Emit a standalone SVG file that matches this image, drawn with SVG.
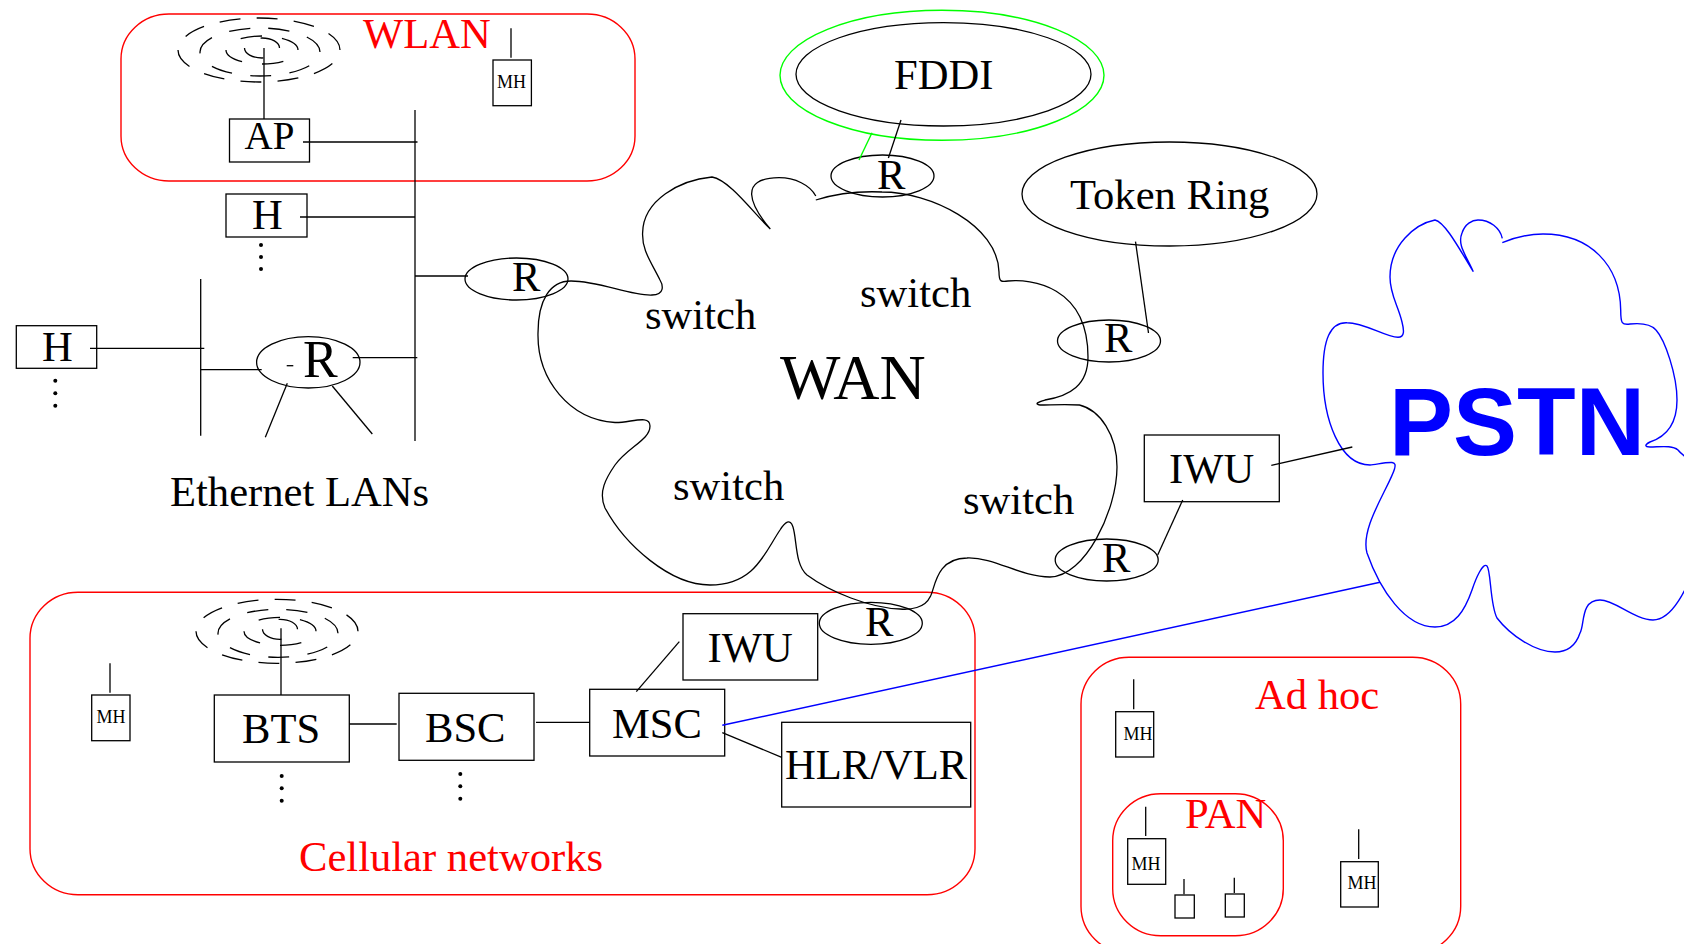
<svg xmlns="http://www.w3.org/2000/svg" xmlns:xlink="http://www.w3.org/1999/xlink" width="1684" height="944" viewBox="0 0 1684 944">
<style>
text{font-family:"Liberation Serif","Times New Roman",serif;fill:#000;font-size:42.6px}
.red{fill:#f00}
.mh{font-size:18px}
.bx,.ln,.el,.rp{fill:none;stroke:#000;stroke-width:1.3}
.rg{fill:none;stroke:#f00;stroke-width:1.4}
.bl{fill:none;stroke:#00f;stroke-width:1.4}
.gr{fill:none;stroke:#0f0;stroke-width:1.4}
.dot{fill:#000}
</style>
<defs>
<g id="ripple">
<ellipse class="rp" cx="259" cy="50" rx="81" ry="32" pathLength="390" stroke-dasharray="22 17" stroke-dashoffset="22"/>
<ellipse class="rp" cx="260" cy="52" rx="60" ry="24" pathLength="287" stroke-dasharray="22 19" stroke-dashoffset="22"/>
<ellipse class="rp" cx="262" cy="50" rx="36" ry="14" pathLength="170" stroke-dasharray="22 20.5" stroke-dashoffset="22"/>
<ellipse class="rp" cx="262" cy="48" rx="17.5" ry="10" pathLength="90" stroke-dasharray="24 21" stroke-dashoffset="24"/>
</g>
</defs>
<g id="wlan"><rect class="rg" x="121" y="14" width="514" height="167" rx="48" ry="45"/><text class="red" x="363" y="48">WLAN</text></g>
<g id="cellular"><rect class="rg" x="30" y="592.3" width="945" height="302.4" rx="48" ry="46"/><text class="red" x="299" y="871">Cellular networks</text></g>
<g id="adhoc"><rect class="rg" x="1081" y="657.3" width="379.7" height="296" rx="48" ry="47"/><text class="red" x="1255" y="709">Ad hoc</text></g>
<g id="pan"><rect class="rg" x="1112.7" y="793.7" width="170.6" height="142" rx="48" ry="47"/><text class="red" x="1185" y="828">PAN</text></g>
<g id="wan-cloud"><path class="ln" d="M815.8 200C835 194 860 191 882 192C930 192 998 225 999 272C999 282 1001 282 1008 281C1030 279 1088 285 1088 357C1088 385 1070 396 1045 400C1038 402 1034 404 1040 405C1050 405 1065 404 1079.5 405C1100 410 1117 435 1117 467C1117 510 1085 577 1050 577C1020 577 995 557 967 558C935 558 935 590 930 597C925 608 910 610 900 609C870 608 830 592 807 575C795 565 797 540 793 527C790 518 785 522 780 530C765 552 755 585 710 585C670 585 625 545 605 508C598 492 606 478 615 465C628 447 650 440 650 426C650 414 630 423 615 422.5C570 420 537 380 538 333C538 300 550 281 571 281C600 281 630 296 652 295C665 295 663 285 660 280C650 260 642 250 642.6 233C643 200 680 180 712 177C730 180 755 215 770.3 229C750 205 738 178 779 177.7C795 177.7 810 185 815.8 196"/>
<text x="645" y="329">switch</text><text x="860" y="307">switch</text><text x="673" y="500">switch</text><text x="963" y="514">switch</text><text x="780" y="399" style="font-size:64px">WAN</text></g>
<g id="pstn"><path class="bl" d="M1502.3 242.7C1516 237 1530 234 1543 234C1590 234 1620 265 1620.7 310C1620.7 324 1622 325 1630 324C1640 323 1650 323 1656 330C1665 340 1677 375 1677 400C1677 425 1665 437 1650 442C1644 445 1645 447 1650 447C1660 447 1672 445 1678 450C1682 455 1690 460 1695 465C1720 500 1690 620 1653 620C1635 620 1615 600 1600 600C1580 600 1585 625 1580 633C1575 648 1565 652 1555 652C1535 652 1510 635 1497 618C1490 605 1491 570 1487 566C1483 562 1476 578 1472 590C1465 610 1455 627 1435 627C1405 627 1380 590 1367 553C1362 535 1375 510 1385 490C1395 470 1398 463 1392 462.5C1385 462 1375 465 1370 465C1340 465 1323 420 1323 373C1323 340 1330 322 1347 322.7C1365 322.7 1385 337 1398 337.3C1405 337 1404 330 1402 322C1398 305 1390 295 1390 277C1390 245 1415 224 1435 220C1445 222 1460 250 1473.3 271.7C1466 255 1457 245 1462 233C1465 224 1472 220 1478 220C1490 220 1500 228 1502.3 238.3"/>
<text x="1389" y="455" style="font-family:'Liberation Sans',Arial,sans-serif;font-weight:700;font-size:96px;fill:#00f">PSTN</text></g>
<g id="fddi"><ellipse class="gr" cx="942" cy="75.3" rx="162" ry="65"/><ellipse class="el" cx="943.5" cy="74.3" rx="147.5" ry="51.7"/><text x="894" y="89">FDDI</text></g>
<g id="token-ring"><ellipse class="el" cx="1169.5" cy="194" rx="147.5" ry="52"/><text x="1070" y="209">Token Ring</text></g>
<g id="ap"><use xlink:href="#ripple" href="#ripple"/><line class="ln" x1="264" y1="48" x2="264" y2="119"/><rect class="bx" x="229.5" y="119" width="80" height="43"/><text x="244.5" y="149" style="font-size:39px">AP</text></g>
<g id="mh-wlan"><line class="ln" x1="511" y1="28.3" x2="511" y2="57.7"/><rect class="bx" x="493" y="60" width="38.4" height="45.7"/><text class="mh" x="497" y="88.3">MH</text></g>
<g id="h1"><rect class="bx" x="226" y="194" width="81" height="43"/><text x="252" y="229">H</text><circle class="dot" cx="261" cy="245" r="2"/><circle class="dot" cx="261" cy="257" r="2"/><circle class="dot" cx="261" cy="269" r="2"/></g>
<g id="h2"><rect class="bx" x="16.3" y="325.7" width="80.4" height="42.6"/><text x="42" y="361">H</text><circle class="dot" cx="55.3" cy="380.7" r="2"/><circle class="dot" cx="55.3" cy="393.3" r="2"/><circle class="dot" cx="55.3" cy="405.7" r="2"/></g>
<g id="r-lan"><ellipse class="el" cx="308.3" cy="362.3" rx="51.7" ry="25.7"/><text x="303" y="377" style="font-size:52px">R</text><line class="ln" x1="286.7" y1="365.7" x2="293.3" y2="365.7"/></g>
<text id="ethernet-label" x="170" y="506">Ethernet LANs</text>
<g id="r-west"><ellipse class="el" cx="516.5" cy="279" rx="51.5" ry="21"/><text x="512" y="291">R</text></g>
<g id="r-north"><ellipse class="el" cx="882.5" cy="176" rx="51.5" ry="21"/><text x="877" y="189">R</text></g>
<g id="r-east"><ellipse class="el" cx="1109" cy="341" rx="51.5" ry="21"/><text x="1104" y="352">R</text></g>
<g id="r-se"><ellipse class="el" cx="1106.7" cy="560" rx="51.5" ry="21"/><text x="1102" y="572">R</text></g>
<g id="r-south"><ellipse class="el" cx="870.8" cy="623.3" rx="51.5" ry="21"/><text x="865" y="636">R</text></g>
<g id="iwu-pstn"><rect class="bx" x="1144.3" y="435" width="135" height="66.7"/><text x="1169" y="483.3">IWU</text></g>
<g id="bts"><use xlink:href="#ripple" href="#ripple" transform="translate(18 581.3)"/><line class="ln" x1="281" y1="628.3" x2="281" y2="695"/><rect class="bx" x="214.3" y="695" width="135" height="67"/><text x="242" y="742.7">BTS</text><circle class="dot" cx="281.7" cy="776" r="2"/><circle class="dot" cx="281.7" cy="788.3" r="2"/><circle class="dot" cx="281.7" cy="800.7" r="2"/></g>
<g id="bsc"><rect class="bx" x="399" y="693.3" width="135" height="67"/><text x="425" y="742">BSC</text><circle class="dot" cx="460.3" cy="774" r="2"/><circle class="dot" cx="460.3" cy="786.3" r="2"/><circle class="dot" cx="460.3" cy="798.7" r="2"/></g>
<g id="msc"><rect class="bx" x="589.7" y="689.3" width="135" height="66.7"/><text x="612" y="737.7">MSC</text></g>
<g id="iwu-cell"><rect class="bx" x="683" y="613.7" width="134.7" height="66.3"/><text x="707.5" y="661.7">IWU</text></g>
<g id="hlr"><rect class="bx" x="781.7" y="722.3" width="189" height="84.7"/><text x="785" y="779">HLR/VLR</text></g>
<g id="mh-cell"><line class="ln" x1="110" y1="663.3" x2="110" y2="692.7"/><rect class="bx" x="91.7" y="695" width="38.3" height="45.7"/><text class="mh" x="96.5" y="723.3">MH</text></g>
<g id="mh-adhoc1"><line class="ln" x1="1133.7" y1="679.3" x2="1133.7" y2="709.3"/><rect class="bx" x="1115.7" y="711.7" width="38" height="45.3"/><text class="mh" x="1123.5" y="740">MH</text></g>
<g id="mh-pan"><line class="ln" x1="1145.7" y1="806.7" x2="1145.7" y2="836"/><rect class="bx" x="1127.7" y="838.7" width="38" height="45.6"/><text class="mh" x="1131.5" y="870">MH</text></g>
<g id="mh-adhoc2"><line class="ln" x1="1358.7" y1="829.3" x2="1358.7" y2="859"/><rect class="bx" x="1340.7" y="861.7" width="37.6" height="45.3"/><text class="mh" x="1347.5" y="889">MH</text></g>
<g id="dev1"><line class="ln" x1="1184" y1="879" x2="1184" y2="894.3"/><rect class="bx" x="1175" y="895" width="19.3" height="23"/></g>
<g id="dev2"><line class="ln" x1="1234.3" y1="877.7" x2="1234.3" y2="893"/><rect class="bx" x="1225.3" y="894" width="19" height="23"/></g>
<g id="connectors">
<line class="ln" x1="415" y1="110" x2="415" y2="441"/>
<line class="ln" x1="200.7" y1="279" x2="200.7" y2="435.7"/>
<line class="ln" x1="303" y1="142" x2="417.5" y2="142"/>
<line class="ln" x1="300" y1="217" x2="415" y2="217"/>
<line class="ln" x1="415" y1="276" x2="468" y2="276"/>
<line class="ln" x1="90" y1="348.3" x2="204.3" y2="348.3"/>
<line class="ln" x1="200.7" y1="369.7" x2="261.7" y2="369.7"/>
<line class="ln" x1="352.7" y1="357.7" x2="417.3" y2="357.7"/>
<line class="ln" x1="287.3" y1="383.3" x2="265.3" y2="437.3"/>
<line class="ln" x1="332.3" y1="386" x2="372.3" y2="434"/>
<line class="ln" x1="901" y1="120" x2="888.4" y2="158"/>
<line class="gr" x1="872" y1="132.7" x2="859" y2="160"/>
<line class="ln" x1="1135.5" y1="241.7" x2="1148.5" y2="333"/>
<line class="ln" x1="1182.7" y1="500" x2="1157.7" y2="555"/>
<line class="ln" x1="1271.3" y1="465.3" x2="1352.3" y2="447"/>
<line class="ln" x1="349.3" y1="724" x2="396.7" y2="724"/>
<line class="ln" x1="536" y1="722.3" x2="590" y2="722.3"/>
<line class="ln" x1="679.3" y1="641.7" x2="636.3" y2="691.7"/>
<line class="ln" x1="722.3" y1="732.7" x2="781.7" y2="757.3"/>
<line class="bl" x1="722.3" y1="725.3" x2="1380" y2="582.3"/>
</g>
</svg>
